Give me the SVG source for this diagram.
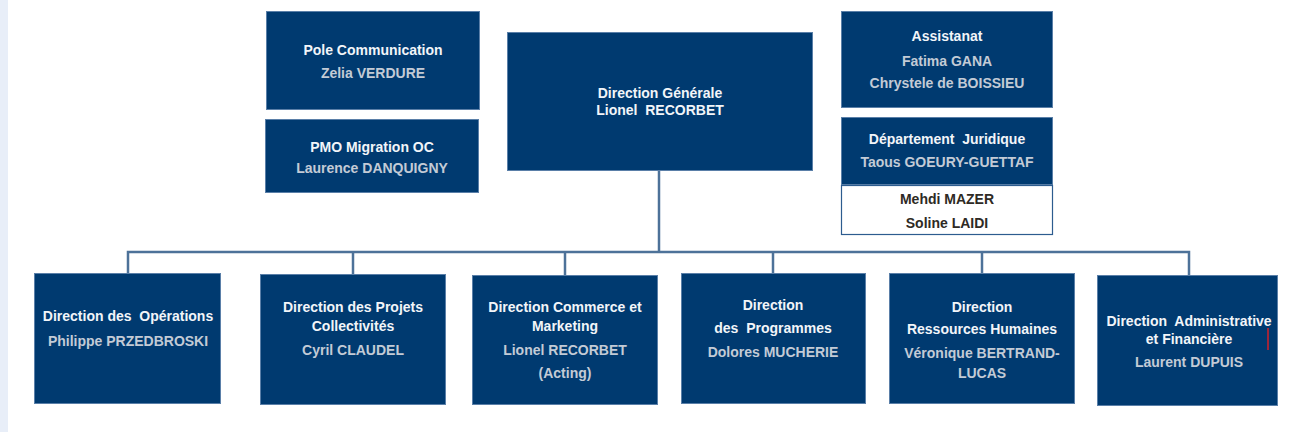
<svg xmlns="http://www.w3.org/2000/svg" width="1295" height="434" viewBox="0 0 1295 434" xml:space="preserve">
<style>
.bx{fill:#003a70;stroke:#5a7fa8;stroke-width:1}
.wb{fill:#ffffff;stroke:#2d5c8f;stroke-width:1.2}
text{font-family:"Liberation Sans",Arial,sans-serif;font-weight:bold;font-size:14px;text-anchor:middle;white-space:pre}
.t{fill:#f2f5f9}
.n{fill:#c3cbd6}
.d{fill:#2e2a24}
.ln{stroke:#4d7299;stroke-width:2.5;fill:none}
</style>
<rect x="0" y="0" width="1295" height="434" fill="#ffffff"/>
<rect x="0" y="0" width="8" height="432" fill="#e8eef8"/>
<g id="connectors">
<path class="ln" d="M659 171 V252"/>
<path class="ln" d="M128 273 V252 H1189 V275"/>
<path class="ln" d="M353 252 V274"/>
<path class="ln" d="M565 252 V275"/>
<path class="ln" d="M773 252 V273"/>
<path class="ln" d="M982 252 V273"/>
</g>
<g id="pole-communication">
<rect class="bx" x="266.5" y="11.5" width="213" height="98"/>
<text class="t" x="373" y="55">Pole Communication</text>
<text class="n" x="373" y="78">Zelia VERDURE</text>
</g>
<g id="pmo-migration">
<rect class="bx" x="265.5" y="119.5" width="213" height="73"/>
<text class="t" x="372" y="152">PMO Migration OC</text>
<text class="n" x="372" y="173">Laurence DANQUIGNY</text>
</g>
<g id="direction-generale">
<rect class="bx" x="507.5" y="32.5" width="305" height="138"/>
<text class="t" x="660" y="98">Direction Générale</text>
<text class="t" x="660" y="115">Lionel  RECORBET</text>
</g>
<g id="assistanat">
<rect class="bx" x="841.5" y="11.5" width="211" height="96"/>
<text class="t" x="947" y="41">Assistanat</text>
<text class="n" x="947" y="66">Fatima GANA</text>
<text class="n" x="947" y="88">Chrystele de BOISSIEU</text>
</g>
<g id="departement-juridique">
<rect class="bx" x="841.5" y="117.5" width="211" height="67"/>
<text class="t" x="947" y="144">Département  Juridique</text>
<text class="n" x="947" y="167">Taous GOEURY-GUETTAF</text>
</g>
<g id="juridique-team">
<rect class="wb" x="841.5" y="185.5" width="211" height="49"/>
<text class="d" x="947" y="204">Mehdi MAZER</text>
<text class="d" x="947" y="228">Soline LAIDI</text>
</g>
<g id="direction-operations">
<rect class="bx" x="34.5" y="273.5" width="186" height="130"/>
<text class="t" x="128" y="321">Direction des  Opérations</text>
<text class="n" x="128" y="346">Philippe PRZEDBROSKI</text>
</g>
<g id="direction-projets">
<rect class="bx" x="260.5" y="274.5" width="185" height="130"/>
<text class="t" x="353" y="312">Direction des Projets</text>
<text class="t" x="353" y="331">Collectivités</text>
<text class="n" x="353" y="355">Cyril CLAUDEL</text>
</g>
<g id="direction-commerce">
<rect class="bx" x="472.5" y="275.5" width="185" height="129"/>
<text class="t" x="565" y="312">Direction Commerce et</text>
<text class="t" x="565" y="331">Marketing</text>
<text class="n" x="565" y="355">Lionel RECORBET</text>
<text class="n" x="565" y="378">(Acting)</text>
</g>
<g id="direction-programmes">
<rect class="bx" x="681.5" y="273.5" width="184" height="130"/>
<text class="t" x="773" y="310">Direction</text>
<text class="t" x="773" y="333">des  Programmes</text>
<text class="n" x="773" y="357">Dolores MUCHERIE</text>
</g>
<g id="direction-rh">
<rect class="bx" x="889.5" y="273.5" width="185" height="130"/>
<text class="t" x="982" y="312">Direction</text>
<text class="t" x="982" y="334">Ressources Humaines</text>
<text class="n" x="982" y="358">Véronique BERTRAND-</text>
<text class="n" x="982" y="378">LUCAS</text>
</g>
<g id="direction-administrative">
<rect class="bx" x="1097.5" y="275.5" width="180" height="130"/>
<text class="t" x="1189" y="326">Direction  Administrative</text>
<text class="t" x="1189" y="344">et Financière</text>
<text class="n" x="1189" y="367">Laurent DUPUIS</text>
<line x1="1268" y1="328" x2="1268" y2="350" stroke="#d0202a" stroke-width="1.5"/>
</g>
</svg>
